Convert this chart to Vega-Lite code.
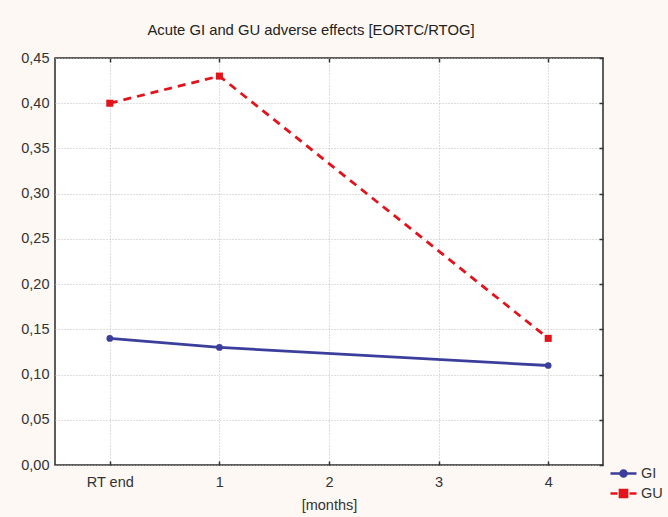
{
  "$schema": "https://vega.github.io/schema/vega-lite/v6.json",
  "autosize": {"type": "none"},
  "padding": {"left": 55, "top": 58, "right": 65, "bottom": 52},
  "width": 548,
  "height": 407,
  "background": "#fdf8f3",
  "title": {
    "text": "Acute GI and GU adverse effects [EORTC/RTOG]",
    "anchor": "middle",
    "dx": -18,
    "offset": 0,
    "baseline": "alphabetic",
    "font": "Liberation Sans",
    "fontSize": 14.8,
    "fontWeight": "normal",
    "color": "#222"
  },
  "data": {
    "values": [
      {"month": 0, "value": 0.14, "series": "GI"},
      {"month": 1, "value": 0.13, "series": "GI"},
      {"month": 4, "value": 0.11, "series": "GI"},
      {"month": 0, "value": 0.40, "series": "GU"},
      {"month": 1, "value": 0.43, "series": "GU"},
      {"month": 4, "value": 0.14, "series": "GU"}
    ]
  },
  "encoding": {
    "x": {
      "field": "month", "type": "quantitative",
      "scale": {"domain": [-0.5, 4.5], "nice": false, "zero": false},
      "axis": null
    },
    "y": {
      "field": "value", "type": "quantitative",
      "scale": {"domain": [0, 0.45], "nice": false},
      "axis": null
    }
  },
  "layer": [
    {
      "transform": [{"filter": "datum.series === 'GI'"}],
      "mark": {"type": "line", "strokeWidth": 2.8},
      "encoding": {
        "x": {
          "field": "month", "type": "quantitative",
          "scale": {"domain": [-0.5, 4.5], "nice": false, "zero": false},
          "axis": {
            "orient": "bottom",
            "values": [0, 1, 2, 3, 4],
            "title": "[months]",
            "labelExpr": "datum.value == 0 ? 'RT end' : datum.label",
            "ticks": true, "tickSize": -4, "tickColor": "#333", "tickWidth": 1.5,
            "labelPadding": 14,
            "titlePadding": 10
          }
        },
        "y": {
          "field": "value", "type": "quantitative",
          "scale": {"domain": [0, 0.45], "nice": false},
          "axis": {
            "orient": "left",
            "values": [0, 0.05, 0.1, 0.15, 0.2, 0.25, 0.3, 0.35, 0.4, 0.45],
            "title": null,
            "labelExpr": "replace(format(datum.value, '.2f'), '.', ',')",
            "ticks": false,
            "labelPadding": 6
          }
        },
        "color": {
          "field": "series", "type": "nominal",
          "scale": {"domain": ["GI", "GU"], "range": ["#3b3e9b", "#e3131b"]},
          "legend": {
            "title": null,
            "orient": "none",
            "legendX": 557,
            "legendY": 404,
            "padding": 0,
            "rowPadding": 0,
            "symbolSize": 400,
            "symbolStrokeWidth": 2.5,
            "labelFont": "Liberation Sans",
            "labelFontSize": 14.5,
            "labelColor": "#333",
            "labelOffset": 6,
            "values": ["GI", "GU"],
            "encode": {
              "symbols": {
                "update": {
                  "shape": {"signal": "datum.value === 'GI' ? 'M-1.3,0H1.3M-0.3,0A0.3,0.3,0,1,0,0.3,0A0.3,0.3,0,1,0,-0.3,0Z' : 'M-1.3,0H-0.6M0.6,0H1.3M-0.36,-0.36H0.36V0.36H-0.36Z'"},
                  "fill": {"signal": "datum.value === 'GI' ? '#3b3e9b' : '#e3131b'"},
                  "stroke": {"signal": "datum.value === 'GI' ? '#3b3e9b' : '#e3131b'"},
                  "size": {"value": 400},
                  "strokeWidth": {"value": 2.5}
                }
              }
            }
          }
        }
      }
    },
    {
      "transform": [{"filter": "datum.series === 'GU'"}],
      "mark": {"type": "line", "strokeWidth": 2.8, "strokeDash": [8, 6], "color": "#e3131b"},
      "encoding": {}
    },
    {
      "transform": [{"filter": "datum.series === 'GI'"}],
      "mark": {"type": "point", "filled": true, "opacity": 1, "shape": "circle", "size": 45, "color": "#3b3e9b"},
      "encoding": {}
    },
    {
      "transform": [{"filter": "datum.series === 'GU'"}],
      "mark": {"type": "point", "filled": true, "opacity": 1, "shape": "square", "size": 50, "color": "#e3131b"},
      "encoding": {
        "x": {
          "field": "month", "type": "quantitative",
          "scale": {"domain": [-0.5, 4.5], "nice": false, "zero": false},
          "axis": {"orient": "top", "values": [0, 1, 2, 3, 4], "labels": false, "grid": false, "domain": false, "title": null, "ticks": true, "tickSize": -4, "tickColor": "#333", "tickWidth": 1.5}
        },
        "y": {
          "field": "value", "type": "quantitative",
          "scale": {"domain": [0, 0.45], "nice": false},
          "axis": {"orient": "right", "values": [0, 0.05, 0.1, 0.15, 0.2, 0.25, 0.3, 0.35, 0.4, 0.45], "labels": false, "grid": false, "domain": false, "title": null, "ticks": true, "tickSize": -4, "tickColor": "#333", "tickWidth": 1.5}
        }
      }
    }
  ],
  "resolve": {"axis": {"x": "independent", "y": "independent"}},
  "config": {
    "view": {"fill": "white", "stroke": "#2a2a2a", "strokeWidth": 1.5},
    "axis": {
      "labelFont": "Liberation Sans",
      "labelFontSize": 14.5,
      "labelColor": "#333",
      "titleFont": "Liberation Sans",
      "titleFontSize": 14.5,
      "titleFontWeight": "normal",
      "titleColor": "#333",
      "domain": false,
      "grid": true,
      "gridColor": "#bdbdbd",
      "gridDash": [1, 2],
      "gridWidth": 1
    }
  }
}
